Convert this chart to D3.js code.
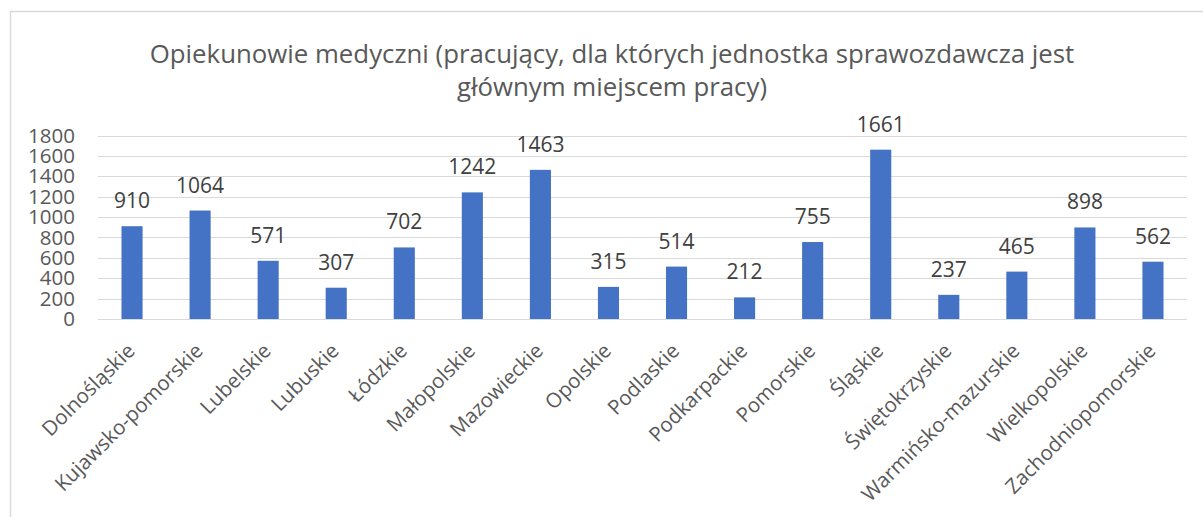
<!DOCTYPE html>
<html>
<head>
<meta charset="utf-8">
<script src="https://cdn.jsdelivr.net/npm/d3@7"></script>
<style>
  body { margin: 0; background: #fff; }
  text { font-family: "Open Sans", sans-serif; }
</style>
</head>
<body>
<script>
// data
var categories = ["Dolnośląskie", "Kujawsko-pomorskie", "Lubelskie", "Lubuskie", "Łódzkie",
    "Małopolskie", "Mazowieckie", "Opolskie", "Podlaskie", "Podkarpackie", "Pomorskie",
    "Śląskie", "Świętokrzyskie", "Warmińsko-mazurskie", "Wielkopolskie", "Zachodniopomorskie"];
var values = [910, 1064, 571, 307, 702, 1242, 1463, 315, 514, 212, 755, 1661, 237, 465, 898, 562];
var yTicks = [0, 200, 400, 600, 800, 1000, 1200, 1400, 1600, 1800];
var titleLines = ["Opiekunowie medyczni (pracujący, dla których jednostka sprawozdawcza jest",
    "głównym miejscem pracy)"];

window.onload = drawChart();

function drawChart(){
    var width = 1203,
        height = 517;

    var svg = d3.select("body")
        .append("svg")
        .attr("width", width)
        .attr("height", height);

    //chart area border (only top and left visible)
    svg.append("rect")
        .attr("x", 10.5)
        .attr("y", 11.5)
        .attr("width", 1250)
        .attr("height", 600)
        .attr("fill", "none")
        .attr("stroke", "#d9d9d9")
        .attr("stroke-width", 1.5);

    //title
    svg.append("text")
        .attr("text-anchor", "middle")
        .attr("fill", "#595959")
        .style("font-size", "25.8px")
        .selectAll("tspan")
        .data(titleLines)
        .enter()
        .append("tspan")
        .attr("x", 612)
        .attr("y", function(d, i){ return 63 + i * 33; })
        .text(function(d){ return d; });

    var plot = { left: 98, right: 1187, top: 135.5, bottom: 319 };

    var x = d3.scaleBand()
        .domain(categories)
        .range([plot.left, plot.right])
        .paddingInner(0.69)
        .paddingOuter(0.345);

    var y = d3.scaleLinear()
        .domain([0, 1800])
        .range([plot.bottom, plot.top]);

    //gridlines
    svg.append("g")
        .selectAll("line")
        .data(yTicks)
        .enter()
        .append("line")
        .attr("x1", plot.left)
        .attr("x2", plot.right)
        .attr("y1", function(d){ return Math.round(y(d)) + 0.5; })
        .attr("y2", function(d){ return Math.round(y(d)) + 0.5; })
        .attr("stroke", "#d9d9d9")
        .attr("stroke-width", 1);

    //y axis labels
    var yAxis = d3.axisLeft(y)
        .tickValues(yTicks)
        .tickFormat(d3.format("d"))
        .tickSize(0)
        .tickPadding(0);

    var gy = svg.append("g")
        .attr("transform", "translate(75,0)")
        .call(yAxis);
    gy.select(".domain").remove();
    gy.selectAll("text")
        .attr("fill", "#595959")
        .style("font-size", "20.5px")
        .style("font-family", "'Open Sans', sans-serif");

    //bars
    svg.append("g")
        .selectAll("rect")
        .data(values)
        .enter()
        .append("rect")
        .attr("x", function(d, i){ return x(categories[i]); })
        .attr("y", function(d){ return y(d); })
        .attr("width", x.bandwidth())
        .attr("height", function(d){ return plot.bottom - y(d); })
        .attr("fill", "#4472c4");

    //data labels
    svg.append("g")
        .selectAll("text")
        .data(values)
        .enter()
        .append("text")
        .attr("x", function(d, i){ return x(categories[i]) + x.bandwidth() / 2; })
        .attr("y", function(d){ return y(d) - 18; })
        .attr("text-anchor", "middle")
        .attr("fill", "#404040")
        .style("font-size", "21px")
        .text(function(d){ return d; });

    //category labels
    svg.append("g")
        .selectAll("text")
        .data(categories)
        .enter()
        .append("text")
        .attr("transform", function(d){
            return "translate(" + (x(d) + x.bandwidth() / 2 + 4) + ",352) rotate(-45)";
        })
        .attr("text-anchor", "end")
        .attr("fill", "#595959")
        .style("font-size", "20.5px")
        .text(function(d){ return d; });
}
</script>
</body>
</html>
